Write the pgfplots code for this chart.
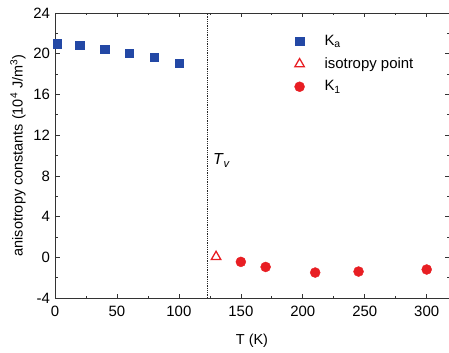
\documentclass[border=0pt]{standalone}
\usepackage{pgfplots}
\pgfplotsset{compat=1.18}
\usepackage{fontspec}
\setmainfont{Liberation Sans}
\definecolor{kblue}{RGB}{35,72,165}
\definecolor{kred}{RGB}{232,30,35}
\begin{document}
\fontsize{14.5}{17}\selectfont
\begin{tikzpicture}
\begin{axis}[
  at={(0,0)}, anchor=south west,
  scale only axis, width=394bp, height=285bp,
  xmin=0, xmax=318, ymin=-4, ymax=24,
  xtick={0,50,...,300}, ytick={-4,0,...,24},
  minor x tick num=1, minor y tick num=1,
  tick align=inside, tick pos=both,
  major tick length=4.5bp, minor tick length=2.5bp,
  axis line style={line width=0.8pt, black!80},
  every tick/.style={black!80, line width=0.7pt},
  /pgf/number format/assume math mode=true,
  ticklabel style={font=\fontsize{15}{17}\selectfont},
  xticklabel style={yshift=-3pt},
  label style={font=\fontsize{14.5}{17}\selectfont},
  xlabel={T (K)}, ylabel={anisotropy constants (10\textsuperscript{4} J/m\textsuperscript{3})},
  ylabel style={yshift=-2pt},
  xlabel style={yshift=-8pt},
  legend style={draw=none, fill=none, at={(rel axis cs:0.6,0.937)}, anchor=north west,
    font=\fontsize{15}{17}\selectfont, row sep=6pt,
    /tikz/every odd column/.append style={column sep=18pt}},
  legend cell align=left,
]
\addplot[only marks, mark=square*, mark size=4.2bp, color=kblue] coordinates {
  (2,21.0) (20,20.85) (40,20.45) (60,20.05) (80,19.65) (100,19.05)};
\addlegendentry{K\textsubscript{a}}
\addplot[only marks, mark=triangle, mark size=5.5bp, color=kred, line width=1.3pt] coordinates {
  (130,0.05)};
\addlegendentry{isotropy point}
\addplot[only marks, mark=*, mark size=5bp, color=kred] coordinates {
  (150,-0.45) (170,-0.95) (210,-1.5) (245,-1.4) (300,-1.2)};
\addlegendentry{K\textsubscript{1}}
\addplot[black!85, densely dotted, line width=0.8pt, forget plot] coordinates {(123,-4) (123,24)};
\node[anchor=west, font=\fontsize{16}{17}\selectfont] at (axis cs:123.5,9.5) {\textit{T}\textsubscript{\textit{v}}};
\end{axis}
\pgfresetboundingbox
\path (-55bp,-55bp) rectangle (394bp,298bp);
\end{tikzpicture}
\end{document}
